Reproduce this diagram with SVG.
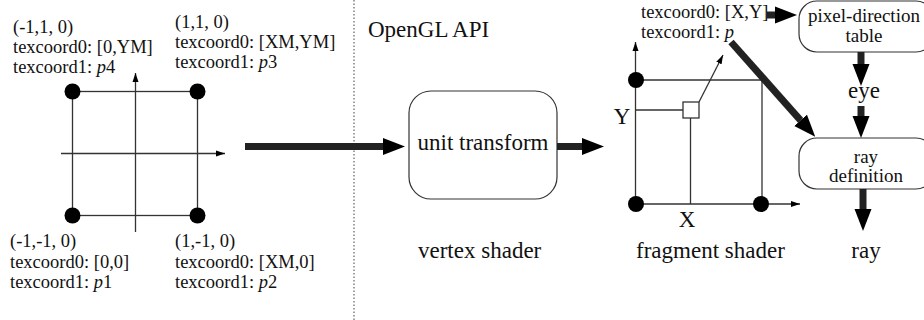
<svg xmlns="http://www.w3.org/2000/svg" width="924" height="320" viewBox="0 0 924 320">
<defs>
<style>
.s{font-size:18.5px}
.b{font-size:23px}
.m{font-size:19px}
.thin{stroke:#333;stroke-width:1.3;fill:none}
.thick{stroke:#222;stroke-width:7;fill:none}
.box{fill:#fff;stroke:#333;stroke-width:1.2}
.dot{fill:#000}
</style>
<marker id="big" markerUnits="userSpaceOnUse" markerWidth="22" markerHeight="18" refX="0" refY="9" orient="auto" viewBox="0 0 22 18"><path d="M0,0.5 L22,9 L0,17.5 z" fill="#000"/></marker>
<marker id="small" markerUnits="userSpaceOnUse" markerWidth="9" markerHeight="7" refX="9" refY="3.5" orient="auto" viewBox="0 0 9 7"><path d="M0,0.5 L9,3.5 L0,6.5 z" fill="#000"/></marker>
</defs>
<rect width="924" height="320" fill="#fff"/>

<g id="divider"><line x1="354" y1="0" x2="354" y2="320" stroke="#444" stroke-width="1" stroke-dasharray="1.5,2"/></g>

<g font-family="Liberation Serif, DejaVu Serif, serif" fill="#111">

<g id="vertex-square">
<line class="thin" x1="135.5" y1="232" x2="135.5" y2="73" marker-end="url(#small)"/>
<line class="thin" x1="61" y1="153.5" x2="225" y2="153.5" marker-end="url(#small)"/>
<rect class="thin" x="72.5" y="91.5" width="125" height="124"/>
<circle class="dot" cx="72.5" cy="91.5" r="8"/>
<circle class="dot" cx="197.5" cy="91.5" r="8"/>
<circle class="dot" cx="72.5" cy="215.5" r="8"/>
<circle class="dot" cx="197.5" cy="215.5" r="8"/>
</g>

<g id="labels-vertices">
<text class="s" x="13" y="33">(-1,1, 0)</text>
<text class="s" x="13" y="53">texcoord0: [0,YM]</text>
<text class="s" x="13" y="73">texcoord1: <tspan font-style="italic">p</tspan>4</text>
<text class="s" x="175" y="28">(1,1, 0)</text>
<text class="s" x="175" y="48">texcoord0: [XM,YM]</text>
<text class="s" x="175" y="68">texcoord1: <tspan font-style="italic">p</tspan>3</text>
<text class="s" x="10" y="247">(-1,-1, 0)</text>
<text class="s" x="10" y="268">texcoord0: [0,0]</text>
<text class="s" x="10" y="288">texcoord1: <tspan font-style="italic">p</tspan>1</text>
<text class="s" x="175" y="247">(1,-1, 0)</text>
<text class="s" x="175" y="268">texcoord0: [XM,0]</text>
<text class="s" x="175" y="288">texcoord1: <tspan font-style="italic">p</tspan>2</text>
</g>

<g id="opengl-label"><text class="b" x="368" y="37">OpenGL API</text></g>

<g id="unit-transform">
<rect class="box" x="409" y="91" width="148" height="108" rx="22" ry="22"/>
<text class="b" x="483" y="150" text-anchor="middle">unit transform</text>
</g>
<g id="vertex-shader-label"><text class="b" x="418" y="258">vertex shader</text></g>

<g id="fragment-grid">
<line class="thin" x1="635.5" y1="204" x2="635.5" y2="42" marker-end="url(#small)"/>
<line class="thin" x1="636" y1="204" x2="800" y2="204" marker-end="url(#small)"/>
<polyline class="thin" points="636,80 762,80 762,204"/>
<line class="thin" x1="636" y1="110" x2="683" y2="110"/>
<line class="thin" x1="690.5" y1="118" x2="690.5" y2="204"/>
<rect class="thin" x="683" y="102" width="16" height="16"/>
<line class="thin" x1="699" y1="102" x2="723" y2="55" marker-end="url(#small)"/>
<circle class="dot" cx="636" cy="80" r="8"/>
<circle class="dot" cx="636" cy="204" r="8"/>
<circle class="dot" cx="761" cy="204" r="8"/>
<text class="b" x="622" y="124" text-anchor="middle">Y</text>
<text class="b" x="687" y="227" text-anchor="middle">X</text>
</g>

<g id="fragment-labels">
<text class="s" x="641" y="18">texcoord0: [X,Y]</text>
<text class="s" x="641" y="38">texcoord1: <tspan font-style="italic">p</tspan></text>
<text class="b" x="636" y="258">fragment shader</text>
</g>

<g id="pixel-direction-table">
<rect class="box" x="799" y="1" width="135" height="51" rx="18" ry="18"/>
<text class="m" x="864" y="22" text-anchor="middle">pixel-direction</text>
<text class="m" x="864" y="42" text-anchor="middle">table</text>
</g>

<g id="eye"><text class="b" x="864" y="98" text-anchor="middle">eye</text></g>

<g id="ray-definition">
<rect class="box" x="799" y="138" width="135" height="51" rx="18" ry="18"/>
<text class="m" x="866" y="163" text-anchor="middle">ray</text>
<text class="m" x="866" y="182" text-anchor="middle">definition</text>
</g>

<g id="ray"><text class="b" x="866" y="258" text-anchor="middle">ray</text></g>
</g>

<g id="connectors">
<line class="thick" x1="245" y1="146.5" x2="383" y2="146.5" marker-end="url(#big)"/>
<line class="thick" x1="557" y1="146.5" x2="582" y2="146.5" marker-end="url(#big)"/>
<line class="thick" x1="767" y1="15" x2="775" y2="15" marker-end="url(#big)"/>
<line class="thick" x1="861" y1="52" x2="861" y2="64" marker-end="url(#big)"/>
<line class="thick" x1="861" y1="106" x2="861" y2="116" marker-end="url(#big)"/>
<line class="thick" x1="863" y1="189" x2="863" y2="209" marker-end="url(#big)"/>
<line class="thick" x1="731" y1="42" x2="800.6" y2="120.3" marker-end="url(#big)"/>
</g>
</svg>
